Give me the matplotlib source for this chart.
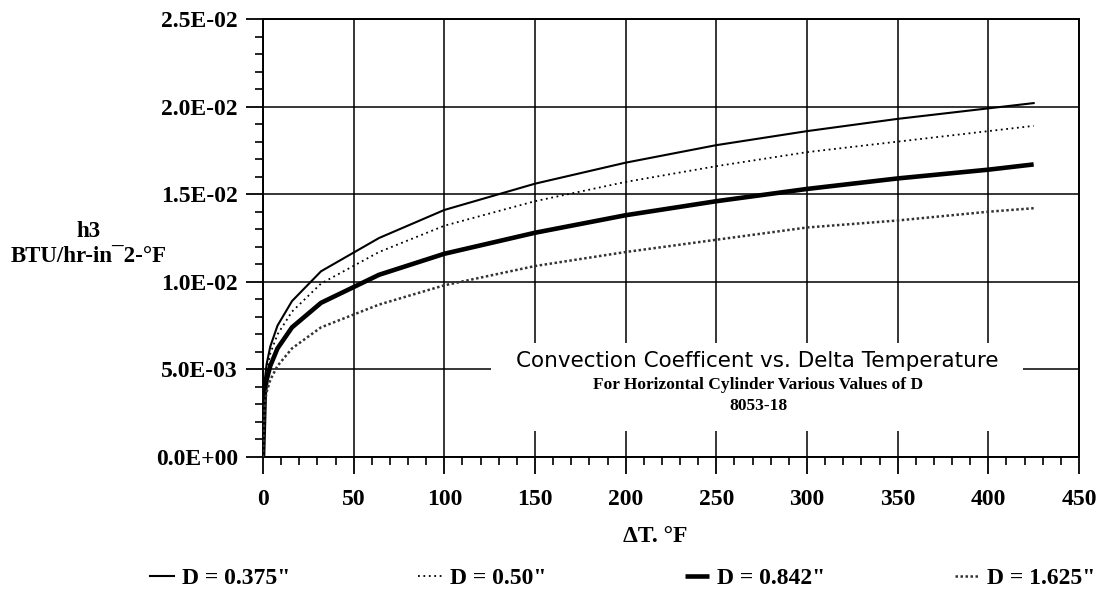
import matplotlib
matplotlib.use("Agg")
import matplotlib.pyplot as plt
from matplotlib.ticker import MultipleLocator, FuncFormatter
from matplotlib.patches import Rectangle

# ---- data ----
delta_t = [0, 1, 2, 4, 8, 16, 32, 64, 100, 150, 200, 250, 300, 350, 400, 425]
h_0375 = [0, 4.4, 5.3, 6.3, 7.5, 8.9, 10.6, 12.5, 14.1, 15.6, 16.8, 17.8, 18.6, 19.3, 19.9, 20.2]
h_0500 = [0, 4.1, 4.9, 5.9, 7.0, 8.3, 9.9, 11.7, 13.2, 14.6, 15.7, 16.6, 17.4, 18.0, 18.6, 18.9]
h_0842 = [0, 3.7, 4.4, 5.2, 6.2, 7.4, 8.8, 10.4, 11.6, 12.8, 13.8, 14.6, 15.3, 15.9, 16.4, 16.7]
h_1625 = [0, 3.1, 3.7, 4.4, 5.2, 6.2, 7.4, 8.7, 9.8, 10.9, 11.7, 12.4, 13.1, 13.5, 14.0, 14.2]
series_labels = ['D = 0.375"', 'D = 0.50"', 'D = 0.842"', 'D = 1.625"']
scale = 1e-3

title = "Convection Coefficent vs. Delta Temperature"
subtitle = "For Horizontal Cylinder Various Values of D"
code = "8053-18"
xlabel = "\u0394T. \u00b0F"
ylabel = "h3\nBTU/hr-in\u00af2-\u00b0F"

W, H = 1101, 606
fig = plt.figure(figsize=(W / 100, H / 100), dpi=100)
ax = fig.add_axes([263 / W, 1 - 457 / H, (1079 - 263) / W, (457 - 19) / H])

serif = ["Liberation Serif", "DejaVu Serif"]
sans = ["DejaVu Sans"]

styles = [
    dict(color="black", lw=1.5, ls="-"),
    dict(color="black", lw=1.3, ls=(0, (1, 2))),
    dict(color="black", lw=3.3, ls="-", solid_capstyle="butt"),
    dict(color="#333333", lw=1.8, ls=(0, (1, 1))),
]
series = [h_0375, h_0500, h_0842, h_1625]
lines = []
for vals, st, lab in zip(series, styles, series_labels):
    (ln,) = ax.plot(delta_t, [v * scale for v in vals], label=lab, zorder=3, **st)
    lines.append(ln)

ax.set_xlim(0, 450)
ax.set_ylim(0, 0.025)
ax.xaxis.set_major_locator(MultipleLocator(50))
ax.xaxis.set_minor_locator(MultipleLocator(10))
ax.yaxis.set_major_locator(MultipleLocator(0.005))
ax.yaxis.set_minor_locator(MultipleLocator(0.001))
ax.yaxis.set_major_formatter(FuncFormatter(lambda v, p: f"{v:.1E}"))
ax.xaxis.set_major_formatter(FuncFormatter(lambda v, p: f"{v:.0f}"))

ax.grid(True, which="major", color="black", lw=1.1)
ax.set_axisbelow(True)
for s in ax.spines.values():
    s.set_linewidth(1.4)
ax.tick_params(which="major", direction="out", length=12, width=1.3, pad=6, color="black")
ax.tick_params(which="minor", direction="out", length=6, width=1.2, color="black")
ax.tick_params(axis="x", which="major", pad=11)
for lbl in ax.get_xticklabels() + ax.get_yticklabels():
    lbl.set_fontfamily(serif)
    lbl.set_fontweight("bold")
    lbl.set_fontsize(17)

# white box behind the title block
ax.add_patch(Rectangle((126, 0.0015), 293, 0.005, facecolor="white", edgecolor="none", zorder=1.5))
ax.text(272.5, 0.0055, title, ha="center", va="center", family=sans, fontsize=15.5, zorder=4)
ax.text(273, 0.0041, subtitle, ha="center", va="center", family=serif, fontweight="bold", fontsize=12.5, zorder=4)
ax.text(273, 0.0029, code, ha="center", va="center", family=serif, fontweight="bold", fontsize=12.5, zorder=4)

fig.text(655 / W, 1 - 537 / H, xlabel, ha="center", va="center", family=serif, fontweight="bold", fontsize=17)
fig.text(89 / W, 1 - 244 / H, ylabel, ha="center", va="center", family=serif, fontweight="bold",
         fontsize=16.5, linespacing=1.3)

legend_x = [150, 418, 685, 955]
for ln, lx in zip(lines, legend_x):
    fig.legend(handles=[ln], loc="center left", bbox_to_anchor=(lx / W, 1 - 578 / H),
               frameon=False, handlelength=1.0, handletextpad=0.35, borderpad=0, borderaxespad=0,
               prop=dict(family=serif, weight="bold", size=17))

fig.savefig("out.png", dpi=100)
